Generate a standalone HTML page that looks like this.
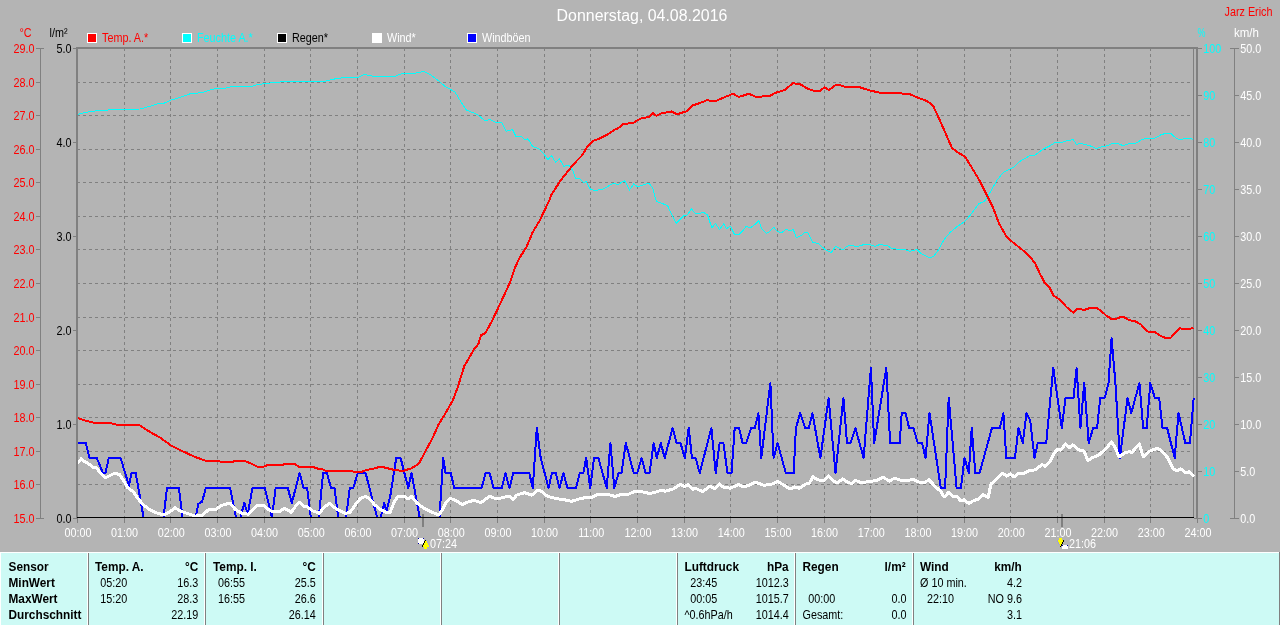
<!DOCTYPE html>
<html lang="de"><head><meta charset="utf-8"><title>Donnerstag, 04.08.2016</title>
<style>html,body{margin:0;padding:0;background:#B4B4B4;overflow:hidden}svg{display:block}
text{font-family:"Liberation Sans",sans-serif;font-size:12px}.b{font-weight:bold}.t{font-size:16px}
.w{fill:#fff}.r{fill:#f00}.c{fill:#0ff}.k{fill:#000}</style></head><body>
<svg width="1280" height="625" viewBox="0 0 1280 625">
<rect width="1280" height="625" fill="#B4B4B4"/>
<g shape-rendering="crispEdges" fill="none" stroke="#808080" stroke-width="1">
<path stroke-dasharray="3 3" d="M77,82.5H1192M77,115.5H1192M77,149.5H1192M77,182.5H1192M77,216.5H1192M77,249.5H1192M77,283.5H1192M77,317.5H1192M77,350.5H1192M77,384.5H1192M77,417.5H1192M77,451.5H1192M77,484.5H1192"/>
<path stroke-dasharray="3 3" d="M124.5,48V517M170.5,48V517M217.5,48V517M264.5,48V517M310.5,48V517M357.5,48V517M404.5,48V517M450.5,48V517M497.5,48V517M544.5,48V517M590.5,48V517M637.5,48V517M684.5,48V517M730.5,48V517M777.5,48V517M824.5,48V517M870.5,48V517M917.5,48V517M964.5,48V517M1010.5,48V517M1057.5,48V517M1104.5,48V517M1150.5,48V517"/>
<path d="M77.5,518V523M1197.5,518V523M124.5,518V523M170.5,518V523M217.5,518V523M264.5,518V523M310.5,518V523M357.5,518V523M404.5,518V523M450.5,518V523M497.5,518V523M544.5,518V523M590.5,518V523M637.5,518V523M684.5,518V523M730.5,518V523M777.5,518V523M824.5,518V523M870.5,518V523M917.5,518V523M964.5,518V523M1010.5,518V523M1057.5,518V523M1104.5,518V523M1150.5,518V523"/>
<path d="M40.5,48V519M36,48.5H44M36,82.5H41M36,115.5H41M36,149.5H41M36,182.5H41M36,216.5H41M36,249.5H41M36,283.5H41M36,317.5H41M36,350.5H41M36,384.5H41M36,417.5H41M36,451.5H41M36,484.5H41M36,518.5H44"/>
<path d="M73,48.5H77M73,142.5H77M73,236.5H77M73,330.5H77M73,424.5H77M73,518.5H77"/>
<path d="M1234.5,48V519M1198,48.5H1202M1230,48.5H1239M1198,95.5H1202M1234,95.5H1239M1198,142.5H1202M1234,142.5H1239M1198,189.5H1202M1234,189.5H1239M1198,236.5H1202M1234,236.5H1239M1198,283.5H1202M1234,283.5H1239M1198,330.5H1202M1234,330.5H1239M1198,377.5H1202M1234,377.5H1239M1198,424.5H1202M1234,424.5H1239M1198,471.5H1202M1234,471.5H1239M1198,518.5H1202M1230,518.5H1239"/>
<path d="M1193.5,48V517"/>
</g>
<g shape-rendering="crispEdges">
<rect x="76" y="47" width="1122" height="2" fill="#808080"/>
<rect x="76" y="47" width="2" height="471" fill="#808080"/>
<rect x="1196" y="47" width="2" height="472" fill="#808080"/><rect x="1194" y="518" width="7" height="1" fill="#808080"/>
<rect x="422" y="514" width="2" height="13" fill="#808080"/>
<rect x="1061" y="514" width="2" height="13" fill="#808080"/>
</g>
<clipPath id="cp"><rect x="78" y="49" width="1117" height="468"/></clipPath><g clip-path="url(#cp)">
<polyline shape-rendering="crispEdges" fill="none" stroke="#00FFFF" stroke-width="1" stroke-linejoin="round" points="77.5,114.5 85.0,112.5 95.0,111.0 115.0,109.5 140.0,109.0 150.0,106.3 157.5,103.8 163.8,103.3 171.3,100.0 180.0,97.5 190.0,93.8 202.5,92.5 210.0,90.0 217.5,88.3 221.3,89.0 230.0,87.0 252.5,86.3 257.5,84.5 270.0,83.0 282.5,81.8 325.0,81.3 332.5,79.3 345.0,77.5 357.5,77.5 365.0,74.3 370.0,75.8 377.5,76.5 390.0,76.5 395.0,76.3 401.3,73.8 415.0,73.3 423.8,71.3 430.0,74.5 437.5,80.0 445.0,86.3 455.0,92.0 461.3,102.5 466.3,110.0 477.5,114.5 485.0,120.8 490.0,119.5 497.5,123.0 501.3,122.0 506.3,131.3 512.5,129.5 516.3,137.0 521.3,136.3 525.0,140.0 528.0,138.8 532.5,146.3 538.8,148.8 543.8,153.8 548.0,160.0 551.3,155.5 555.5,162.0 559.5,158.8 563.8,166.3 568.8,165.0 572.5,170.0 575.5,178.0 580.0,178.8 583.8,182.5 586.3,181.3 590.0,188.8 593.8,190.5 602.5,189.5 613.8,183.0 617.5,185.0 624.5,180.5 629.5,190.0 633.8,183.8 637.5,187.0 648.8,183.0 652.5,187.5 654.5,195.0 656.3,201.3 667.5,205.5 672.0,215.0 676.3,223.3 683.8,215.5 687.5,215.0 691.3,208.8 695.5,213.8 703.8,212.5 707.5,215.0 710.0,222.5 712.0,228.0 715.5,223.3 719.5,229.5 723.8,223.8 726.3,228.8 730.5,226.3 734.5,234.5 738.8,234.5 742.5,231.3 746.3,226.3 750.0,228.0 755.0,224.5 758.8,220.5 761.3,228.0 766.3,233.3 770.0,231.3 773.8,227.5 777.5,231.3 781.3,233.0 786.3,229.3 790.0,230.8 793.3,229.5 796.3,238.0 801.3,235.5 805.0,232.0 808.0,233.0 812.5,242.0 818.8,243.8 825.0,249.5 831.3,252.5 835.5,246.3 843.0,250.0 847.0,246.3 851.3,245.0 856.3,247.0 862.5,245.0 870.0,244.5 875.0,246.3 880.0,244.5 887.5,245.8 892.5,248.8 905.0,249.5 910.0,251.3 917.0,249.5 921.3,253.8 930.0,258.0 933.8,256.3 938.0,250.5 943.8,240.0 950.0,232.5 957.5,226.3 965.0,221.3 971.3,213.8 978.8,203.8 984.5,201.3 990.0,192.5 997.5,179.5 1003.8,172.0 1013.8,167.0 1020.0,161.3 1030.0,155.5 1034.6,155.5 1042.0,149.8 1048.6,146.5 1055.2,142.5 1061.9,142.5 1064.5,141.4 1068.5,140.5 1073.2,139.4 1076.5,144.5 1079.8,143.4 1085.8,144.5 1091.1,146.2 1096.4,148.5 1101.7,146.8 1107.0,145.8 1112.3,143.4 1117.7,143.4 1123.0,145.6 1129.6,143.4 1135.6,143.4 1142.2,139.4 1146.9,138.5 1154.2,138.5 1161.5,134.5 1165.5,133.5 1170.8,133.5 1175.4,137.5 1178.8,139.4 1182.7,139.4 1184.1,138.5 1191.4,138.5 1192.7,139.4"/>
<polyline shape-rendering="crispEdges" fill="none" stroke="#0000FF" stroke-width="2" stroke-linejoin="round" points="77.7,443.0 85.8,443.0 89.4,458.0 96.8,458.0 103.0,473.0 105.5,473.0 108.8,458.0 120.6,458.0 129.0,485.9 131.4,473.0 135.7,473.0 143.6,517.5 163.5,517.5 167.0,488.0 178.9,488.0 182.5,517.5 195.5,517.5 198.4,503.9 202.0,501.8 205.9,488.0 230.2,488.0 236.0,517.5 240.3,517.5 244.3,503.0 247.8,513.7 252.5,488.0 264.8,488.0 272.0,517.5 275.6,488.0 287.8,488.0 291.8,503.0 299.6,473.0 303.6,488.0 307.2,488.0 310.8,517.5 318.8,517.5 323.1,473.0 327.0,473.0 331.0,488.0 334.6,488.0 338.2,517.5 346.1,517.5 349.7,488.0 353.3,488.0 357.7,473.0 365.6,473.0 377.1,517.5 380.7,517.5 384.3,503.0 386.4,511.1 390.2,496.5 396.2,458.0 400.6,458.0 408.2,488.0 411.5,473.0 419.7,517.5 439.5,517.5 443.2,458.0 445.6,473.0 450.7,473.0 454.3,488.0 481.6,488.0 485.5,473.0 489.6,473.0 493.6,488.0 501.8,488.0 505.4,473.0 509.4,488.0 513.3,473.0 529.2,473.0 532.8,488.0 536.8,428.0 540.7,458.0 548.6,488.0 551.9,473.0 555.7,473.0 559.6,488.0 563.4,473.0 567.5,488.0 576.1,488.0 579.7,473.0 583.3,473.0 586.2,458.0 590.2,488.0 594.1,458.0 598.4,458.0 606.7,488.0 610.4,443.0 614.3,488.0 618.6,473.0 621.5,473.0 625.8,443.0 633.7,473.0 637.3,473.0 641.6,458.0 645.5,473.0 649.6,473.0 653.6,443.0 656.8,458.0 660.8,443.0 664.7,458.0 672.6,428.0 676.6,443.0 680.5,443.0 684.8,458.0 688.7,428.0 692.0,458.0 695.6,458.0 699.7,473.0 711.4,428.0 715.7,473.0 719.6,443.0 723.4,443.0 727.5,473.0 731.5,473.0 734.7,428.0 739.0,428.0 742.6,443.0 746.2,443.0 751.2,428.0 754.8,428.0 758.4,413.0 761.3,458.0 766.7,413.0 770.4,383.0 773.6,458.0 777.6,443.0 785.8,473.0 793.7,473.0 795.9,428.0 800.2,413.0 805.2,428.0 808.8,428.0 812.4,413.0 820.4,458.0 828.6,398.0 835.5,473.0 843.4,398.0 847.0,443.0 850.6,443.0 855.4,428.0 863.6,458.0 870.9,368.0 874.2,443.0 886.3,368.0 890.1,443.0 899.7,443.0 901.7,413.0 905.5,413.0 909.1,428.0 913.4,428.0 917.7,443.0 922.0,443.0 925.6,458.0 929.5,413.0 940.8,488.0 945.1,488.0 948.7,398.0 956.6,488.0 960.9,488.0 964.5,458.0 968.8,473.0 971.7,428.0 975.3,473.0 979.6,473.0 991.9,428.0 999.8,428.0 1003.4,413.0 1006.3,458.0 1014.9,458.0 1018.5,428.0 1022.8,443.0 1026.5,413.0 1030.2,420.5 1034.5,458.0 1037.8,443.0 1046.2,443.0 1053.3,368.0 1061.8,428.0 1065.5,398.0 1073.5,398.0 1076.6,368.0 1080.4,428.0 1084.2,383.0 1088.7,443.0 1093.2,428.0 1097.1,428.0 1100.2,398.0 1104.7,398.0 1108.5,383.0 1111.6,338.0 1115.4,383.0 1119.9,458.0 1127.5,398.0 1131.3,413.0 1139.4,383.0 1143.2,428.0 1146.7,428.0 1150.3,383.0 1154.9,398.0 1159.2,398.0 1162.5,428.0 1167.1,428.0 1174.7,458.0 1178.5,413.0 1185.3,443.0 1189.9,443.0 1193.7,398.0"/>
<polyline shape-rendering="crispEdges" fill="none" stroke="#FF0000" stroke-width="2" stroke-linejoin="round" points="77.5,418.0 85.0,420.5 92.5,422.5 107.5,422.5 117.5,424.8 138.8,424.8 150.0,432.0 160.0,437.5 171.0,445.5 182.5,451.2 195.0,457.0 206.0,460.8 220.0,461.5 230.0,462.0 237.2,461.0 244.4,461.0 250.2,463.1 257.4,466.7 263.8,466.7 267.4,465.0 283.3,464.6 284.7,464.0 294.8,464.0 299.1,466.7 313.5,467.2 317.8,468.6 322.2,469.2 325.8,471.0 352.4,471.3 356.7,472.2 361.0,472.0 366.8,470.0 374.0,468.6 378.3,467.2 384.1,467.4 390.0,468.9 395.8,470.3 403.7,470.8 411.6,468.2 418.8,463.8 426.0,450.2 432.0,439.1 438.7,424.2 445.8,412.7 452.8,400.4 458.1,386.3 464.2,366.1 466.0,363.4 473.9,349.4 478.3,344.1 481.0,335.3 485.5,333.0 492.5,320.0 501.3,301.3 510.0,282.5 515.0,267.5 520.0,257.0 526.3,247.5 532.5,232.5 540.0,220.0 550.0,198.8 551.3,195.0 560.0,181.3 568.8,170.0 576.3,161.3 582.0,155.5 587.5,146.3 593.8,140.5 598.8,138.8 607.5,134.5 615.0,129.5 617.5,128.8 622.5,124.5 633.8,122.5 640.0,118.8 648.8,116.8 653.0,113.3 656.3,115.8 661.3,113.3 671.3,111.5 677.0,114.3 686.3,111.3 692.5,105.5 700.0,103.0 707.5,100.0 710.0,100.8 716.3,100.8 725.0,97.0 733.0,93.8 738.8,97.0 748.8,93.8 756.3,97.0 770.0,95.8 775.0,93.0 785.0,90.0 792.5,83.3 799.5,83.8 806.3,88.0 813.8,90.8 820.0,90.8 824.5,87.5 828.8,90.0 835.0,85.5 840.0,85.0 845.0,87.0 858.8,87.0 870.0,90.5 880.0,92.8 897.5,93.0 910.0,94.3 918.8,98.0 927.5,101.3 933.0,105.5 938.8,118.0 946.3,135.0 952.0,148.0 958.8,153.0 965.0,156.5 972.5,168.8 980.0,181.3 985.0,191.3 992.5,206.3 998.8,223.0 1006.3,236.3 1012.5,242.0 1022.5,250.0 1030.0,256.8 1035.3,263.7 1039.9,273.6 1044.4,282.2 1049.8,288.0 1053.6,295.6 1060.4,300.2 1066.5,307.0 1073.3,312.7 1077.1,309.0 1084.7,309.8 1090.8,307.8 1096.2,307.8 1100.7,310.5 1106.0,315.4 1111.4,318.9 1116.7,318.7 1121.2,316.9 1124.3,317.2 1128.8,320.0 1134.9,321.2 1141.0,324.5 1147.1,331.4 1154.7,332.1 1160.8,335.9 1165.3,337.9 1170.7,337.9 1175.2,332.9 1179.8,328.0 1182.1,328.8 1189.7,328.8 1193.5,327.9"/>
<polyline shape-rendering="crispEdges" fill="none" stroke="#FFFFFF" stroke-width="3" stroke-linejoin="round" points="77.5,463.4 81.2,458.8 84.4,461.4 88.7,463.8 93.0,467.2 96.6,467.7 101.0,473.9 105.3,477.8 109.6,475.8 114.6,473.2 119.7,474.6 124.0,481.1 127.6,487.6 133.4,491.9 137.7,498.4 143.4,504.9 149.2,509.2 156.4,512.8 163.6,515.0 169.4,512.1 175.1,507.8 180.9,511.4 189.5,514.2 195.3,516.1 202.5,515.0 209.0,509.2 215.4,509.9 221.2,505.6 230.0,503.0 235.8,509.9 241.5,513.2 248.0,514.2 253.0,509.2 256.6,505.6 260.2,506.0 263.8,505.2 267.4,508.9 271.8,511.4 279.7,511.4 284.0,508.5 287.6,509.9 291.2,512.4 295.5,506.3 299.4,502.3 303.4,506.0 307.0,506.6 312.1,510.6 319.3,513.2 323.6,507.8 329.4,503.2 333.7,507.0 339.4,510.6 345.2,513.2 349.5,512.8 355.3,504.9 360.3,498.4 365.4,496.5 369.7,498.8 374.0,504.2 379.8,509.2 385.5,512.1 390.0,512.8 393.6,503.4 397.2,497.0 403.7,496.0 408.0,498.8 411.6,496.2 416.6,502.7 423.1,507.8 431.8,512.1 439.0,515.0 442.6,509.2 446.2,502.0 450.5,498.4 456.2,500.6 462.0,504.6 467.8,502.0 474.2,500.3 480.7,502.7 485.0,499.8 489.4,496.2 493.7,498.0 500.9,498.0 505.2,497.0 509.5,496.5 513.1,499.4 516.7,495.1 524.6,492.6 531.8,495.1 537.6,490.2 541.2,491.2 545.5,495.1 550.0,497.0 557.2,498.8 564.4,499.8 571.6,501.3 578.8,499.1 586.0,497.4 591.0,498.0 597.5,494.5 604.7,494.1 610.5,495.1 614.8,496.5 622.0,494.1 627.8,494.5 633.5,491.9 639.3,491.6 645.0,492.2 649.4,493.7 656.6,491.9 660.9,490.2 665.2,491.2 673.8,488.8 680.3,484.4 684.6,486.5 688.2,484.4 692.6,489.3 695.4,488.3 702.6,491.6 710.0,486.0 715.0,488.8 719.4,484.0 723.0,486.9 730.2,488.3 738.8,484.4 743.1,486.9 748.9,485.4 755.4,482.1 764.0,485.4 771.9,484.0 777.7,481.6 783.4,484.7 789.9,489.0 794.9,486.9 799.3,488.3 805.0,484.4 809.4,483.0 813.0,476.8 817.3,479.7 823.8,480.7 828.4,475.8 832.4,480.1 836.7,483.0 842.5,479.0 848.2,482.6 851.8,483.3 855.4,480.4 861.2,482.6 870.0,481.6 876.5,480.4 883.0,477.2 889.4,481.1 894.5,478.2 900.2,480.1 907.4,480.7 913.2,479.3 919.0,482.1 924.7,482.6 929.0,479.7 934.8,486.2 940.6,491.2 944.2,497.0 948.5,492.6 953.5,497.0 956.4,496.2 960.7,500.6 964.3,499.8 968.6,503.4 973.7,500.6 978.0,499.1 983.0,494.5 988.1,497.7 991.0,484.0 996.7,479.0 1002.5,473.2 1006.8,476.1 1010.4,473.9 1014.0,476.8 1019.0,473.2 1022.6,473.9 1030.0,470.3 1035.3,469.9 1042.2,464.5 1045.2,466.4 1050.5,460.7 1053.6,453.9 1057.4,449.3 1060.4,450.1 1065.7,444.0 1069.8,447.8 1072.6,444.8 1080.2,450.9 1084.0,450.9 1087.8,460.7 1092.3,457.7 1098.4,455.4 1106.0,448.6 1111.4,441.7 1115.2,447.8 1119.0,456.9 1124.3,453.1 1129.6,451.6 1131.9,452.4 1139.2,444.0 1143.3,456.9 1148.6,451.6 1157.7,448.1 1162.3,451.6 1167.6,457.7 1172.9,468.3 1176.7,470.9 1180.5,468.8 1185.9,472.9 1188.9,471.8 1193.9,476.4"/>
</g>
<rect shape-rendering="crispEdges" x="77" y="517" width="1117" height="1" fill="#000"/>
<text class="r" text-anchor="end" transform="translate(34.60,53.00) scale(0.900,1)">29.0</text>
<text class="r" text-anchor="end" transform="translate(34.60,86.57) scale(0.900,1)">28.0</text>
<text class="r" text-anchor="end" transform="translate(34.60,120.14) scale(0.900,1)">27.0</text>
<text class="r" text-anchor="end" transform="translate(34.60,153.71) scale(0.900,1)">26.0</text>
<text class="r" text-anchor="end" transform="translate(34.60,187.28) scale(0.900,1)">25.0</text>
<text class="r" text-anchor="end" transform="translate(34.60,220.85) scale(0.900,1)">24.0</text>
<text class="r" text-anchor="end" transform="translate(34.60,254.43) scale(0.900,1)">23.0</text>
<text class="r" text-anchor="end" transform="translate(34.60,288.00) scale(0.900,1)">22.0</text>
<text class="r" text-anchor="end" transform="translate(34.60,321.57) scale(0.900,1)">21.0</text>
<text class="r" text-anchor="end" transform="translate(34.60,355.14) scale(0.900,1)">20.0</text>
<text class="r" text-anchor="end" transform="translate(34.60,388.71) scale(0.900,1)">19.0</text>
<text class="r" text-anchor="end" transform="translate(34.60,422.28) scale(0.900,1)">18.0</text>
<text class="r" text-anchor="end" transform="translate(34.60,455.85) scale(0.900,1)">17.0</text>
<text class="r" text-anchor="end" transform="translate(34.60,489.42) scale(0.900,1)">16.0</text>
<text class="r" text-anchor="end" transform="translate(34.60,522.99) scale(0.900,1)">15.0</text>
<text class="k" text-anchor="end" transform="translate(71.60,53.00) scale(0.900,1)">5.0</text>
<text class="k" text-anchor="end" transform="translate(71.60,147.00) scale(0.900,1)">4.0</text>
<text class="k" text-anchor="end" transform="translate(71.60,241.00) scale(0.900,1)">3.0</text>
<text class="k" text-anchor="end" transform="translate(71.60,335.00) scale(0.900,1)">2.0</text>
<text class="k" text-anchor="end" transform="translate(71.60,429.00) scale(0.900,1)">1.0</text>
<text class="k" text-anchor="end" transform="translate(71.60,523.00) scale(0.900,1)">0.0</text>
<text class="c" text-anchor="start" transform="translate(1203.30,53.00) scale(0.900,1)">100</text>
<text class="w" text-anchor="start" transform="translate(1240.20,53.00) scale(0.900,1)">50.0</text>
<text class="c" text-anchor="start" transform="translate(1203.30,100.00) scale(0.900,1)">90</text>
<text class="w" text-anchor="start" transform="translate(1240.20,100.00) scale(0.900,1)">45.0</text>
<text class="c" text-anchor="start" transform="translate(1203.30,147.00) scale(0.900,1)">80</text>
<text class="w" text-anchor="start" transform="translate(1240.20,147.00) scale(0.900,1)">40.0</text>
<text class="c" text-anchor="start" transform="translate(1203.30,194.00) scale(0.900,1)">70</text>
<text class="w" text-anchor="start" transform="translate(1240.20,194.00) scale(0.900,1)">35.0</text>
<text class="c" text-anchor="start" transform="translate(1203.30,241.00) scale(0.900,1)">60</text>
<text class="w" text-anchor="start" transform="translate(1240.20,241.00) scale(0.900,1)">30.0</text>
<text class="c" text-anchor="start" transform="translate(1203.30,288.00) scale(0.900,1)">50</text>
<text class="w" text-anchor="start" transform="translate(1240.20,288.00) scale(0.900,1)">25.0</text>
<text class="c" text-anchor="start" transform="translate(1203.30,335.00) scale(0.900,1)">40</text>
<text class="w" text-anchor="start" transform="translate(1240.20,335.00) scale(0.900,1)">20.0</text>
<text class="c" text-anchor="start" transform="translate(1203.30,382.00) scale(0.900,1)">30</text>
<text class="w" text-anchor="start" transform="translate(1240.20,382.00) scale(0.900,1)">15.0</text>
<text class="c" text-anchor="start" transform="translate(1203.30,429.00) scale(0.900,1)">20</text>
<text class="w" text-anchor="start" transform="translate(1240.20,429.00) scale(0.900,1)">10.0</text>
<text class="c" text-anchor="start" transform="translate(1203.30,476.00) scale(0.900,1)">10</text>
<text class="w" text-anchor="start" transform="translate(1240.20,476.00) scale(0.900,1)">5.0</text>
<text class="c" text-anchor="start" transform="translate(1203.30,523.00) scale(0.900,1)">0</text>
<text class="w" text-anchor="start" transform="translate(1240.20,523.00) scale(0.900,1)">0.0</text>
<text class="w" text-anchor="middle" transform="translate(77.90,537.00) scale(0.900,1)">00:00</text>
<text class="w" text-anchor="middle" transform="translate(124.57,537.00) scale(0.900,1)">01:00</text>
<text class="w" text-anchor="middle" transform="translate(171.23,537.00) scale(0.900,1)">02:00</text>
<text class="w" text-anchor="middle" transform="translate(217.90,537.00) scale(0.900,1)">03:00</text>
<text class="w" text-anchor="middle" transform="translate(264.57,537.00) scale(0.900,1)">04:00</text>
<text class="w" text-anchor="middle" transform="translate(311.23,537.00) scale(0.900,1)">05:00</text>
<text class="w" text-anchor="middle" transform="translate(357.90,537.00) scale(0.900,1)">06:00</text>
<text class="w" text-anchor="middle" transform="translate(404.57,537.00) scale(0.900,1)">07:00</text>
<text class="w" text-anchor="middle" transform="translate(451.23,537.00) scale(0.900,1)">08:00</text>
<text class="w" text-anchor="middle" transform="translate(497.90,537.00) scale(0.900,1)">09:00</text>
<text class="w" text-anchor="middle" transform="translate(544.57,537.00) scale(0.900,1)">10:00</text>
<text class="w" text-anchor="middle" transform="translate(591.23,537.00) scale(0.900,1)">11:00</text>
<text class="w" text-anchor="middle" transform="translate(637.90,537.00) scale(0.900,1)">12:00</text>
<text class="w" text-anchor="middle" transform="translate(684.57,537.00) scale(0.900,1)">13:00</text>
<text class="w" text-anchor="middle" transform="translate(731.23,537.00) scale(0.900,1)">14:00</text>
<text class="w" text-anchor="middle" transform="translate(777.90,537.00) scale(0.900,1)">15:00</text>
<text class="w" text-anchor="middle" transform="translate(824.57,537.00) scale(0.900,1)">16:00</text>
<text class="w" text-anchor="middle" transform="translate(871.23,537.00) scale(0.900,1)">17:00</text>
<text class="w" text-anchor="middle" transform="translate(917.90,537.00) scale(0.900,1)">18:00</text>
<text class="w" text-anchor="middle" transform="translate(964.57,537.00) scale(0.900,1)">19:00</text>
<text class="w" text-anchor="middle" transform="translate(1011.23,537.00) scale(0.900,1)">20:00</text>
<text class="w" text-anchor="middle" transform="translate(1057.90,537.00) scale(0.900,1)">21:00</text>
<text class="w" text-anchor="middle" transform="translate(1104.57,537.00) scale(0.900,1)">22:00</text>
<text class="w" text-anchor="middle" transform="translate(1151.23,537.00) scale(0.900,1)">23:00</text>
<text class="w" text-anchor="middle" transform="translate(1197.90,537.00) scale(0.900,1)">24:00</text>
<text class="r" text-anchor="start" transform="translate(19.50,37.00) scale(0.900,1)">°C</text>
<text class="k" text-anchor="start" transform="translate(49.50,37.00) scale(0.900,1)">l/m²</text>
<text class="c" text-anchor="start" transform="translate(1197.50,37.00) scale(0.750,1)">%</text>
<text class="w" text-anchor="start" transform="translate(1234.00,37.00) scale(0.960,1)">km/h</text>
<text class="w t" text-anchor="middle" transform="translate(642.00,21.00) scale(0.995,1)">Donnerstag, 04.08.2016</text>
<text class="r" text-anchor="end" transform="translate(1272.50,16.00) scale(0.900,1)">Jarz Erich</text>
<text class="w" text-anchor="start" transform="translate(430.00,548.00) scale(0.900,1)">07:24</text>
<text class="w" text-anchor="start" transform="translate(1069.00,548.00) scale(0.900,1)">21:06</text>
<rect shape-rendering="crispEdges" x="87" y="33" width="10" height="10" fill="#fff"/><rect shape-rendering="crispEdges" x="88" y="34" width="8" height="8" fill="#f00"/>
<text class="r" text-anchor="start" transform="translate(102.00,42.00) scale(0.900,1)">Temp. A.*</text>
<rect shape-rendering="crispEdges" x="182" y="33" width="10" height="10" fill="#fff"/><rect shape-rendering="crispEdges" x="183" y="34" width="8" height="8" fill="#0ff"/>
<text class="c" text-anchor="start" transform="translate(197.00,42.00) scale(0.900,1)">Feuchte A.*</text>
<rect shape-rendering="crispEdges" x="277" y="33" width="10" height="10" fill="#fff"/><rect shape-rendering="crispEdges" x="278" y="34" width="8" height="8" fill="#000"/>
<text class="k" text-anchor="start" transform="translate(292.00,42.00) scale(0.900,1)">Regen*</text>
<rect shape-rendering="crispEdges" x="372" y="33" width="10" height="10" fill="#fff"/><rect shape-rendering="crispEdges" x="373" y="34" width="8" height="8" fill="#fff"/>
<text class="w" text-anchor="start" transform="translate(387.00,42.00) scale(0.900,1)">Wind*</text>
<rect shape-rendering="crispEdges" x="467" y="33" width="10" height="10" fill="#fff"/><rect shape-rendering="crispEdges" x="468" y="34" width="8" height="8" fill="#00f"/>
<text class="w" text-anchor="start" transform="translate(482.00,42.00) scale(0.900,1)">Windböen</text>
<g shape-rendering="crispEdges">
<rect x="418" y="538" width="6" height="6" fill="#00a"/>
<path d="M419,538h4v1h1v4h-1v1h-4v-1h-1v-4h1z" fill="#fff"/>
<path d="M425,540h1v1h-1zM425,541h2v2h-2zM424,543h4v2h-4zM423,545h6v2h-6zM424,547h3v2h-3z" fill="#ff0"/>
<path d="M425,540h1v1h-1zM424,541h1v2h-1zM423,543h1v2h-1zM422,545h1v2h-1z" fill="#000"/>
<path d="M427,541h1v2h-1zM428,543h1v2h-1zM429,545h1v2h-1z" fill="#99f" opacity=".6"/>
<path d="M1059,538h3v2h2v1h-1v2h-1v2h-1v2h-1v-2h-1v-2h-1v-2h-1v-1h2z" fill="#ff0"/>
<path d="M1063,540h1v2h-1v2h-1v2h-1v1h-1v-1h1v-2h1v-2h1z" fill="#000"/>
<path d="M1057,540h1v2h1v2h1v1h-1v-1h-1v-2h-1z" fill="#88f" opacity=".7"/>
<rect x="1062" y="545" width="6" height="2" fill="#00a"/>
<path d="M1063,545h4v1h1v3h-6v-3h1z" fill="#fff"/>
</g>
<g shape-rendering="crispEdges">
<rect x="0" y="552" width="1280" height="73" fill="#fff"/>
<rect x="1" y="553" width="1278" height="72" fill="#CDFAF5"/>
<rect x="1279" y="552" width="1" height="73" fill="#808080"/>
<rect x="87" y="553" width="1" height="72" fill="#fff"/><rect x="88" y="553" width="1" height="72" fill="#808080"/>
<rect x="204" y="553" width="1" height="72" fill="#fff"/><rect x="205" y="553" width="1" height="72" fill="#808080"/>
<rect x="322" y="553" width="1" height="72" fill="#fff"/><rect x="323" y="553" width="1" height="72" fill="#808080"/>
<rect x="440" y="553" width="1" height="72" fill="#fff"/><rect x="441" y="553" width="1" height="72" fill="#808080"/>
<rect x="558" y="553" width="1" height="72" fill="#fff"/><rect x="559" y="553" width="1" height="72" fill="#808080"/>
<rect x="676" y="553" width="1" height="72" fill="#fff"/><rect x="677" y="553" width="1" height="72" fill="#808080"/>
<rect x="794" y="553" width="1" height="72" fill="#fff"/><rect x="795" y="553" width="1" height="72" fill="#808080"/>
<rect x="912" y="553" width="1" height="72" fill="#fff"/><rect x="913" y="553" width="1" height="72" fill="#808080"/>
</g>
<text class="k b" text-anchor="start" transform="translate(8.50,571.00) scale(0.985,1)">Sensor</text>
<text class="k b" text-anchor="start" transform="translate(8.50,587.00) scale(0.985,1)">MinWert</text>
<text class="k b" text-anchor="start" transform="translate(8.50,602.50) scale(0.985,1)">MaxWert</text>
<text class="k b" text-anchor="start" transform="translate(8.50,618.50) scale(0.985,1)">Durchschnitt</text>
<text class="k b" text-anchor="start" transform="translate(95.00,571.00) scale(0.985,1)">Temp. A.</text>
<text class="k b" text-anchor="end" transform="translate(198.30,571.00) scale(0.985,1)">°C</text>
<text class="k" text-anchor="start" transform="translate(100.30,587.00) scale(0.900,1)">05:20</text>
<text class="k" text-anchor="end" transform="translate(198.30,587.00) scale(0.900,1)">16.3</text>
<text class="k" text-anchor="start" transform="translate(100.30,602.50) scale(0.900,1)">15:20</text>
<text class="k" text-anchor="end" transform="translate(198.30,602.50) scale(0.900,1)">28.3</text>
<text class="k" text-anchor="end" transform="translate(198.30,618.50) scale(0.900,1)">22.19</text>
<text class="k b" text-anchor="start" transform="translate(213.00,571.00) scale(0.985,1)">Temp. I.</text>
<text class="k b" text-anchor="end" transform="translate(315.80,571.00) scale(0.985,1)">°C</text>
<text class="k" text-anchor="start" transform="translate(218.00,587.00) scale(0.900,1)">06:55</text>
<text class="k" text-anchor="end" transform="translate(315.80,587.00) scale(0.900,1)">25.5</text>
<text class="k" text-anchor="start" transform="translate(218.00,602.50) scale(0.900,1)">16:55</text>
<text class="k" text-anchor="end" transform="translate(315.80,602.50) scale(0.900,1)">26.6</text>
<text class="k" text-anchor="end" transform="translate(315.80,618.50) scale(0.900,1)">26.14</text>
<text class="k b" text-anchor="start" transform="translate(684.50,571.00) scale(0.985,1)">Luftdruck</text>
<text class="k b" text-anchor="end" transform="translate(788.70,571.00) scale(0.985,1)">hPa</text>
<text class="k" text-anchor="start" transform="translate(690.30,587.00) scale(0.900,1)">23:45</text>
<text class="k" text-anchor="end" transform="translate(788.70,587.00) scale(0.900,1)">1012.3</text>
<text class="k" text-anchor="start" transform="translate(690.30,602.50) scale(0.900,1)">00:05</text>
<text class="k" text-anchor="end" transform="translate(788.70,602.50) scale(0.900,1)">1015.7</text>
<text class="k" text-anchor="start" transform="translate(684.50,618.50) scale(0.900,1)">^0.6hPa/h</text>
<text class="k" text-anchor="end" transform="translate(788.70,618.50) scale(0.900,1)">1014.4</text>
<text class="k b" text-anchor="start" transform="translate(802.50,571.00) scale(0.985,1)">Regen</text>
<text class="k b" text-anchor="end" transform="translate(905.60,571.00) scale(0.985,1)">l/m²</text>
<text class="k" text-anchor="start" transform="translate(808.20,602.50) scale(0.900,1)">00:00</text>
<text class="k" text-anchor="end" transform="translate(906.50,602.50) scale(0.900,1)">0.0</text>
<text class="k" text-anchor="start" transform="translate(802.50,618.50) scale(0.900,1)">Gesamt:</text>
<text class="k" text-anchor="end" transform="translate(906.50,618.50) scale(0.900,1)">0.0</text>
<text class="k b" text-anchor="start" transform="translate(920.00,571.00) scale(0.985,1)">Wind</text>
<text class="k b" text-anchor="end" transform="translate(1021.80,571.00) scale(0.985,1)">km/h</text>
<text class="k" text-anchor="start" transform="translate(920.00,587.00) scale(0.900,1)">Ø 10 min.</text>
<text class="k" text-anchor="end" transform="translate(1022.00,587.00) scale(0.900,1)">4.2</text>
<text class="k" text-anchor="start" transform="translate(927.00,602.50) scale(0.900,1)">22:10</text>
<text class="k" text-anchor="end" transform="translate(1022.00,602.50) scale(0.900,1)">NO 9.6</text>
<text class="k" text-anchor="end" transform="translate(1022.00,618.50) scale(0.900,1)">3.1</text>
</svg></body></html>
